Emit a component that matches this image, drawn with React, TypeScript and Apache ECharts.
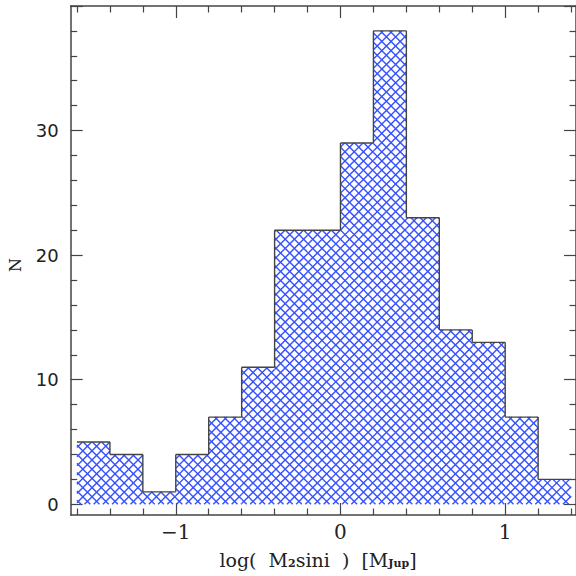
import React, { useEffect, useRef } from 'react';
import * as echarts from 'echarts';

// Histogram bins (left edges), bin width and counts
const binStarts = [-1.6, -1.4, -1.2, -1.0, -0.8, -0.6, -0.4, -0.2, 0.0, 0.2, 0.4, 0.6, 0.8, 1.0, 1.2];
const binWidth = 0.2;
const counts = [5, 4, 1, 4, 7, 11, 22, 22, 29, 38, 23, 14, 13, 7, 2];

// Axis ticks / labels
const xMajorTicks = [-1, 0, 1];
const xMinorTicks = [-1.6, -1.4, -1.2, -0.8, -0.6, -0.4, -0.2, 0.2, 0.4, 0.6, 0.8, 1.2, 1.4];
const xLabels = [-1, 0, 1];
const yMajorTicks = [0, 10, 20, 30, 40];
const yMinorTicks = [2, 4, 6, 8, 12, 14, 16, 18, 22, 24, 26, 28, 32, 34, 36, 38];
const yLabels = [0, 10, 20, 30];

const X_MIN = -1.638;
const X_MAX = 1.43;
const Y_MIN = -0.86;
const Y_MAX = 40;

const HATCH = '#3550ff';
const FRAME = '#444444';
const HATCH_SPACING = 9.2;

export default function App() {
  const ref = useRef<HTMLDivElement>(null);

  useEffect(() => {
    if (!ref.current) return;
    const chart = echarts.init(ref.current, null, { renderer: 'svg' });

    const data = binStarts.map((s, i) => [s, s + binWidth, counts[i]]);

    const fmt = (v: number) => (v < 0 ? '\u2212' + Math.abs(v) : String(v));

    const xAxisBase = (position: 'top' | 'bottom', major: boolean) => ({
      type: 'value',
      position,
      min: X_MIN,
      max: X_MAX,
      axisLine: { show: major, onZero: false, lineStyle: { color: FRAME, width: 1.5 } },
      axisTick: {
        show: true,
        inside: true,
        length: major ? 12 : 6.5,
        lineStyle: { color: FRAME, width: 1.2 },
        customValues: major ? xMajorTicks : xMinorTicks,
      },
      axisLabel: {
        show: major && position === 'bottom',
        customValues: xLabels,
        formatter: fmt,
        fontFamily: 'DejaVu Serif',
        fontSize: 20,
        color: '#222',
        margin: 7,
      },
      splitLine: { show: false },
    });

    const yAxisBase = (position: 'left' | 'right', major: boolean) => ({
      type: 'value',
      position,
      min: Y_MIN,
      max: Y_MAX,
      axisLine: { show: major, onZero: false, lineStyle: { color: FRAME, width: 1.5 } },
      axisTick: {
        show: true,
        inside: true,
        length: major ? 12 : 6.5,
        lineStyle: { color: FRAME, width: 1.2 },
        customValues: major ? yMajorTicks : yMinorTicks,
      },
      axisLabel: {
        show: major && position === 'left',
        customValues: yLabels,
        fontFamily: 'DejaVu Sans',
        fontSize: 18,
        color: '#222',
        margin: 12,
      },
      splitLine: { show: false },
    });

    const option: any = {
      animation: false,
      backgroundColor: '#ffffff',
      grid: { left: 70.7, top: 6, width: 506.2, height: 509 },
      xAxis: [
        xAxisBase('bottom', true),
        xAxisBase('bottom', false),
        xAxisBase('top', true),
        xAxisBase('top', false),
      ],
      yAxis: [
        yAxisBase('left', true),
        yAxisBase('left', false),
        yAxisBase('right', true),
        yAxisBase('right', false),
      ],
      graphic: [
        {
          type: 'text',
          x: 15.5,
          y: 265,
          rotation: Math.PI / 2,
          style: {
            text: 'N',
            font: '16px "DejaVu Serif"',
            fill: '#222',
            align: 'center',
            verticalAlign: 'middle',
          },
        },
        {
          type: 'text',
          x: 318,
          y: 557,
          style: {
            text: '{a|log(  M}{s|2}{a|sini  )  [M}{s|Jup}{a|]}',
            align: 'center',
            verticalAlign: 'middle',
            fill: '#222',
            rich: {
              a: { fontFamily: 'DejaVu Serif', fontSize: 19, lineHeight: 24, verticalAlign: 'bottom', fill: '#222' },
              s: { fontFamily: 'DejaVu Serif', fontSize: 11, fontWeight: 'bold', lineHeight: 12, verticalAlign: 'bottom', fill: '#222' },
            },
          },
        },
      ],
      series: [
        {
          type: 'custom',
          xAxisIndex: 0,
          yAxisIndex: 0,
          encode: { x: [0, 1], y: 2 },
          data,
          clip: false,
          renderItem: (params: any, api: any) => {
            const i = params.dataIndex;
            const x0v = api.value(0);
            const x1v = api.value(1);
            const h = api.value(2);
            const pTop = api.coord([x0v, h]);
            const pBot = api.coord([x1v, 0]);
            const left = pTop[0];
            const top = pTop[1];
            const right = pBot[0];
            const bottom = pBot[1];
            const S = HATCH_SPACING;
            const children: any[] = [];
            const hs = { stroke: HATCH, lineWidth: 1.4 };
            // family "/" : x + y = c
            for (let c = Math.ceil((left + top) / S) * S; c <= right + bottom; c += S) {
              const xa = Math.max(left, c - bottom);
              const xb = Math.min(right, c - top);
              if (xb > xa) {
                children.push({ type: 'line', shape: { x1: xa, y1: c - xa, x2: xb, y2: c - xb }, style: hs, silent: true });
              }
            }
            // family "\" : x - y = c
            for (let c = Math.ceil((left - bottom) / S) * S; c <= right - top; c += S) {
              const xa = Math.max(left, c + top);
              const xb = Math.min(right, c + bottom);
              if (xb > xa) {
                children.push({ type: 'line', shape: { x1: xa, y1: xa - c, x2: xb, y2: xb - c }, style: hs, silent: true });
              }
            }
            const os = { stroke: FRAME, lineWidth: 1.4 };
            children.push({ type: 'line', shape: { x1: left, y1: top, x2: right, y2: top }, style: os, z2: 10 });
            if (i > 0) {
              const prev = api.coord([x0v, counts[i - 1]]);
              children.push({ type: 'line', shape: { x1: left, y1: prev[1], x2: left, y2: top }, style: os, z2: 10 });
            }
            return { type: 'group', children };
          },
        },
      ],
    };

    chart.setOption(option);
    return () => chart.dispose();
  }, []);

  return (
    <div
      ref={ref}
      style={{ position: 'fixed', left: 0, top: 0, width: 576, height: 576, background: '#fff' }}
    />
  );
}
